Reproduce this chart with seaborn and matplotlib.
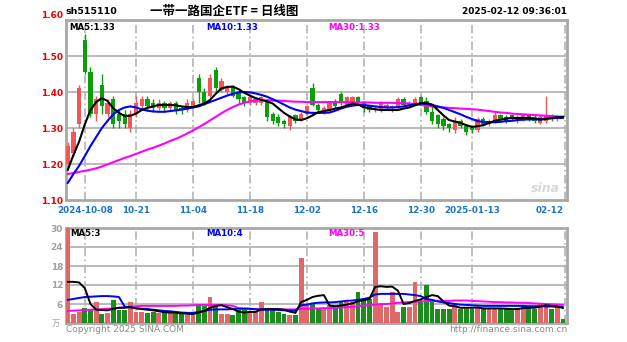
import numpy as np
import pandas as pd
import matplotlib
matplotlib.use("Agg")
import matplotlib.pyplot as plt
import seaborn as sns

# ---------------- data ----------------
dates = ["09-26", "09-27", "09-30", "10-08", "10-09", "10-10", "10-11", "10-14", "10-15", "10-16",
         "10-17", "10-18", "10-21", "10-22", "10-23", "10-24", "10-25", "10-28", "10-29", "10-30",
         "10-31", "11-01", "11-04", "11-05", "11-06", "11-07", "11-08", "11-11", "11-12", "11-13",
         "11-14", "11-15", "11-18", "11-19", "11-20", "11-21", "11-22", "11-25", "11-26", "11-27",
         "11-28", "11-29", "12-02", "12-03", "12-04", "12-05", "12-06", "12-09", "12-10", "12-11",
         "12-12", "12-13", "12-16", "12-17", "12-18", "12-19", "12-20", "12-23", "12-24", "12-25",
         "12-26", "12-27", "12-30", "12-31", "01-02", "01-03", "01-06", "01-07", "01-08", "01-09",
         "01-10", "01-13", "01-14", "01-15", "01-16", "01-17", "01-20", "01-21", "01-22", "01-23",
         "01-24", "01-27", "02-05", "02-06", "02-07", "02-10", "02-11", "02-12"]

open_ = [1.20, 1.23, 1.31, 1.545, 1.455, 1.34, 1.42, 1.34, 1.38, 1.34,
         1.34, 1.30, 1.34, 1.36, 1.38, 1.37, 1.355, 1.37, 1.355, 1.37,
         1.355, 1.35, 1.36, 1.44, 1.40, 1.39, 1.46, 1.405, 1.40, 1.415,
         1.40, 1.385, 1.37, 1.37, 1.37, 1.375, 1.34, 1.33, 1.32, 1.305,
         1.335, 1.325, 1.34, 1.41, 1.365, 1.345, 1.35, 1.375, 1.395, 1.365,
         1.37, 1.385, 1.37, 1.36, 1.35, 1.35, 1.355, 1.355, 1.355, 1.38,
         1.365, 1.37, 1.385, 1.375, 1.345, 1.335, 1.325, 1.31, 1.295, 1.32,
         1.305, 1.30, 1.295, 1.325, 1.31, 1.32, 1.335, 1.33, 1.335, 1.32,
         1.325, 1.335, 1.33, 1.315, 1.32, 1.335, 1.325, 1.333]
high = [1.26, 1.30, 1.42, 1.56, 1.47, 1.39, 1.45, 1.38, 1.39, 1.35,
        1.35, 1.35, 1.39, 1.39, 1.39, 1.38, 1.38, 1.375, 1.375, 1.375,
        1.36, 1.38, 1.38, 1.45, 1.41, 1.45, 1.47, 1.44, 1.42, 1.42,
        1.405, 1.39, 1.39, 1.385, 1.39, 1.38, 1.345, 1.34, 1.325, 1.335,
        1.34, 1.345, 1.365, 1.425, 1.37, 1.36, 1.375, 1.38, 1.40, 1.39,
        1.39, 1.39, 1.375, 1.365, 1.36, 1.375, 1.37, 1.365, 1.385, 1.385,
        1.375, 1.385, 1.39, 1.385, 1.36, 1.34, 1.33, 1.315, 1.33, 1.325,
        1.31, 1.305, 1.33, 1.33, 1.325, 1.345, 1.34, 1.335, 1.34, 1.335,
        1.34, 1.34, 1.335, 1.335, 1.39, 1.34, 1.335, 1.335]
low = [1.19, 1.22, 1.30, 1.45, 1.33, 1.32, 1.34, 1.33, 1.30, 1.30,
       1.30, 1.29, 1.33, 1.35, 1.35, 1.345, 1.35, 1.345, 1.35, 1.34,
       1.34, 1.345, 1.355, 1.37, 1.365, 1.385, 1.40, 1.40, 1.395, 1.385,
       1.37, 1.36, 1.365, 1.365, 1.365, 1.32, 1.31, 1.305, 1.30, 1.295,
       1.315, 1.32, 1.335, 1.36, 1.345, 1.34, 1.345, 1.355, 1.365, 1.36,
       1.365, 1.365, 1.345, 1.345, 1.345, 1.345, 1.35, 1.345, 1.35, 1.36,
       1.36, 1.365, 1.365, 1.34, 1.31, 1.30, 1.295, 1.29, 1.285, 1.30,
       1.28, 1.285, 1.29, 1.305, 1.305, 1.315, 1.32, 1.315, 1.32, 1.315,
       1.32, 1.32, 1.315, 1.31, 1.315, 1.32, 1.32, 1.328]
close = [1.25, 1.29, 1.41, 1.455, 1.34, 1.38, 1.36, 1.37, 1.31, 1.32,
         1.31, 1.34, 1.37, 1.38, 1.36, 1.355, 1.37, 1.355, 1.37, 1.35,
         1.35, 1.37, 1.375, 1.40, 1.37, 1.44, 1.41, 1.43, 1.415, 1.39,
         1.38, 1.37, 1.385, 1.38, 1.385, 1.33, 1.32, 1.315, 1.31, 1.33,
         1.32, 1.34, 1.36, 1.365, 1.35, 1.355, 1.37, 1.36, 1.37, 1.385,
         1.385, 1.37, 1.355, 1.35, 1.355, 1.37, 1.365, 1.36, 1.38, 1.365,
         1.37, 1.38, 1.37, 1.345, 1.32, 1.31, 1.305, 1.30, 1.32, 1.305,
         1.29, 1.295, 1.325, 1.31, 1.32, 1.335, 1.325, 1.32, 1.325, 1.33,
         1.335, 1.325, 1.32, 1.33, 1.335, 1.325, 1.333, 1.33]

ma5 = [1.183, 1.225, 1.262, 1.31, 1.35, 1.372, 1.383, 1.375, 1.355, 1.342,
       1.333, 1.334, 1.34, 1.35, 1.356, 1.36, 1.364, 1.364, 1.364, 1.363,
       1.36, 1.358, 1.358, 1.363, 1.368, 1.378, 1.395, 1.41, 1.414, 1.415,
       1.408, 1.398, 1.39, 1.383, 1.378, 1.374, 1.368, 1.355, 1.342, 1.332,
       1.324, 1.322, 1.327, 1.335, 1.344, 1.347, 1.35, 1.354, 1.357, 1.362,
       1.368, 1.365, 1.358, 1.355, 1.352, 1.35, 1.35, 1.35, 1.35, 1.354,
       1.357, 1.363, 1.369, 1.369, 1.365, 1.35, 1.335, 1.322, 1.318, 1.314,
       1.308, 1.303, 1.305, 1.308, 1.314, 1.32, 1.323, 1.326, 1.328, 1.328,
       1.328, 1.328, 1.326, 1.323, 1.325, 1.328, 1.33, 1.331]
ma10 = [1.147, 1.172, 1.195, 1.222, 1.25, 1.275, 1.30, 1.32, 1.338, 1.35,
        1.357, 1.36, 1.357, 1.352, 1.348, 1.346, 1.345, 1.345, 1.347, 1.349,
        1.351, 1.354, 1.357, 1.36, 1.366, 1.372, 1.378, 1.384, 1.39, 1.395,
        1.399, 1.40, 1.399, 1.396, 1.392, 1.387, 1.38, 1.373, 1.365, 1.357,
        1.351, 1.347, 1.343, 1.342, 1.342, 1.342, 1.343, 1.348, 1.354, 1.359,
        1.362, 1.364, 1.364, 1.362, 1.36, 1.358, 1.357, 1.357, 1.358, 1.36,
        1.363, 1.366, 1.368, 1.367, 1.364, 1.36, 1.356, 1.35, 1.344, 1.338,
        1.331, 1.325, 1.319, 1.317, 1.316, 1.316, 1.317, 1.319, 1.32, 1.322,
        1.323, 1.324, 1.324, 1.325, 1.326, 1.327, 1.328, 1.328]
ma30 = [1.172, 1.175, 1.178, 1.181, 1.184, 1.188, 1.193, 1.199, 1.205, 1.211,
        1.217, 1.222, 1.228, 1.234, 1.24, 1.245, 1.251, 1.257, 1.264, 1.27,
        1.277, 1.285, 1.293, 1.302, 1.311, 1.321, 1.331, 1.341, 1.35, 1.358,
        1.365, 1.37, 1.374, 1.376, 1.377, 1.377, 1.376, 1.376, 1.375, 1.374,
        1.373, 1.373, 1.372, 1.372, 1.372, 1.372, 1.372, 1.372, 1.372, 1.372,
        1.371, 1.371, 1.371, 1.371, 1.37, 1.37, 1.37, 1.37, 1.369, 1.369,
        1.368, 1.366, 1.364, 1.362, 1.36, 1.358, 1.357, 1.356, 1.355, 1.354,
        1.353, 1.352, 1.351, 1.349, 1.347, 1.345, 1.343, 1.342, 1.34, 1.339,
        1.338, 1.337, 1.336, 1.335, 1.334, 1.333, 1.332, 1.331]

volume = [34, 3, 3.5, 4.7, 4.5, 6.5, 3, 3.2, 7.3, 4,
          4, 6.6, 3.5, 3.5, 3.2, 3.5, 3.2, 3.4, 3.3, 3,
          3, 2.5, 2.5, 5.7, 5.5, 8.2, 5.3, 3, 3, 2.5,
          4, 4, 3.5, 3.5, 6.6, 4.5, 4, 3.5, 3, 2.5,
          2.5, 20.5, 6, 6.3, 4.5, 4.5, 5.7, 5.4, 6.5, 6.6,
          6.6, 9.8, 7.6, 7.6, 28.7, 6.3, 5, 9.8, 3.5, 5,
          5, 13, 7, 12, 7, 4.4, 4.4, 4.4, 6.3, 4.4,
          4.4, 4.4, 5, 4.5, 4.5, 4.4, 4.4, 4.4, 4.4, 4.4,
          5.5, 5.5, 4.4, 6.3, 6.3, 4.4, 5, 1.3]
vma5 = [13, 13, 12.8, 11, 6, 4.2, 4.1, 4.0, 4.5, 4.8,
        4.8, 5.0, 4.6, 4.4, 4.2, 4.0, 3.7, 3.4, 3.3, 3.2,
        3.1, 2.9, 2.8, 3.3, 3.8, 4.8, 5.4, 5.6, 5.0, 4.4,
        3.6, 3.3, 3.5, 3.5, 4.3, 4.4, 4.4, 4.4, 4.2, 3.6,
        3.2, 6.6, 7.3, 8.2, 8.6, 8.8, 5.5, 5.3, 5.5, 5.8,
        6.2, 6.9, 7.2, 7.6, 11.4, 11.6, 11.4, 11.5, 10.2, 6.0,
        6.3, 7.0, 7.4, 8.2, 8.8, 8.5, 6.8, 5.5, 5.3, 4.8,
        4.8, 4.8, 4.9, 4.6, 4.6, 4.6, 4.6, 4.5, 4.4, 4.4,
        4.7, 4.8, 4.8, 5.2, 5.6, 5.4, 5.3, 4.7]
vma10 = [7.3, 7.6, 7.9, 8.2, 8.3, 8.4, 8.5, 8.5, 8.4, 8.2,
         5.2, 5.0, 4.7, 4.5, 4.4, 4.2, 4.0, 3.8, 3.7, 3.5,
         3.3, 3.2, 3.2, 3.5, 3.8, 4.2, 4.3, 4.3, 4.3, 4.4,
         4.5, 4.5, 4.5, 4.3, 4.2, 4.2, 4.2, 4.1, 4.0, 3.9,
         3.9, 5.6, 5.8, 6.2, 6.4, 6.5, 6.5, 6.6, 6.8, 7.0,
         7.1, 7.3, 7.6, 8.0, 9.0, 9.2, 9.2, 9.2, 9.2, 9.2,
         9.0, 8.8, 8.5, 7.6, 7.3, 6.8, 6.5, 6.3, 6.0, 5.8,
         5.7, 5.6, 5.5, 5.4, 5.4, 5.4, 5.4, 5.4, 5.4, 5.4,
         5.4, 5.3, 5.3, 5.3, 5.2, 5.2, 5.1, 5.1]
vma30 = [3.8, 3.9, 4.0, 4.1, 4.2, 4.3, 4.4, 4.5, 4.6, 4.8,
         5.0, 5.1, 5.3, 5.4, 5.4, 5.4, 5.4, 5.4, 5.4, 5.4,
         5.5, 5.5, 5.6, 5.7, 5.7, 5.7, 5.7, 5.7, 5.6, 5.4,
         4.7, 4.6, 4.5, 4.4, 4.4, 4.3, 4.3, 4.3, 4.3, 4.3,
         4.3, 4.4, 4.5, 4.6, 4.6, 4.7, 4.7, 4.8, 4.9, 5.0,
         5.1, 5.3, 5.5, 5.6, 5.8, 5.9, 6.0, 6.2, 6.4, 6.5,
         6.6, 6.7, 6.8, 6.9, 6.9, 7.0, 7.0, 7.0, 7.1, 7.1,
         7.1, 7.0, 6.9, 6.8, 6.7, 6.6, 6.6, 6.5, 6.5, 6.4,
         6.4, 6.3, 6.2, 6.1, 6.0, 5.9, 5.8, 5.7]

price_ticks = [1.10, 1.20, 1.30, 1.40, 1.50, 1.60]
vol_ticks = [0, 6, 12, 18, 24, 30]
date_tick_pos = [3, 12, 22, 32, 42, 52, 62, 71]
date_tick_lab = ["2024-10-08", "10-21", "11-04", "11-18", "12-02", "12-16", "12-30", "2025-01-13"]
last_label = "02-12"

code = "sh515110"
title = "一带一路国企ETF = 日线图"
stamp = "2025-02-12 09:36:01"
legend_price = ["MA5:1.33", "MA10:1.33", "MA30:1.33"]
legend_vol = ["MA5:3", "MA10:4", "MA30:5"]

# ---------------- style ----------------
sns.set_style("white")
plt.rcParams["font.family"] = ["DejaVu Sans", "Noto Sans CJK SC"]

RED = "#f25656"
GREEN = "#0a9e0a"
GRID = "#b4b4b4"
DATEBLUE = "#1a74c8"

df = pd.DataFrame({"i": np.arange(len(dates)), "date": dates, "open": open_, "high": high,
                   "low": low, "close": close, "volume": volume,
                   "ma5": ma5, "ma10": ma10, "ma30": ma30,
                   "vma5": vma5, "vma10": vma10, "vma30": vma30})
df["dir"] = np.where(df["close"] >= df["open"], "up", "down")
pal = {"up": RED, "down": GREEN}

fig = plt.figure(figsize=(6.27, 3.42), dpi=100)
ax1 = fig.add_axes([66 / 627, 1 - 200 / 342, 501 / 627, 180 / 342])
ax2 = fig.add_axes([66 / 627, 1 - 323 / 342, 501 / 627, 95 / 342])

XMIN, XMAX = -0.3, 87.7

for ax in (ax1, ax2):
    for s in ax.spines.values():
        s.set_color("#a8a8a8")
        s.set_linewidth(2.0)
    for p in date_tick_pos + [87.3]:
        ax.axvline(p, color=GRID, lw=1.2, ls=(0, (5, 2, 1, 2)), zorder=0)

# ---- price panel ----
for y in [1.20, 1.30, 1.40, 1.50]:
    ax1.axhline(y, color=GRID, lw=1.3, zorder=0)

wick_colors = [pal[d] for d in df["dir"]]
ax1.vlines(df["i"], df["low"], df["high"], colors=wick_colors, lw=1.0, zorder=2)
body_bottom = np.minimum(df["open"], df["close"])
body_h = np.maximum(np.abs(df["close"] - df["open"]), 0.003)
ax1.bar(df["i"], body_h, bottom=body_bottom, width=0.75, color=wick_colors, linewidth=0, zorder=3)

sns.lineplot(data=df, x="i", y="ma30", ax=ax1, color="#ff00ff", lw=1.5, zorder=4)
sns.lineplot(data=df, x="i", y="ma10", ax=ax1, color="#0000ff", lw=1.5, zorder=5)
sns.lineplot(data=df, x="i", y="ma5", ax=ax1, color="#000000", lw=1.5, zorder=6)

ax1.set_xlim(XMIN, XMAX)
ax1.set_ylim(1.10, 1.60)
ax1.set_yticks(price_ticks)
ax1.set_yticklabels([f"{v:.2f}" for v in price_ticks])
ax1.tick_params(axis="y", length=0, pad=2, labelsize=6.5, labelcolor="#ee0000")
for lab in ax1.get_yticklabels():
    lab.set_fontweight("bold")
ax1.get_yticklabels()[-1].set_va("bottom")
ax1.set_xticks([])
ax1.set_xlabel("")
ax1.set_ylabel("")

lp_x = [0.3, 24.3, 45.8]
for xx, t, c in zip(lp_x, legend_price, ["#000000", "#0000ff", "#ff00ff"]):
    ax1.text(xx, 1.592, t, color=c, fontsize=6.2, fontweight="bold", va="top", ha="left")

ax1.text(0.985, 0.03, "sina", transform=ax1.transAxes, ha="right", va="bottom",
         fontsize=9, fontstyle="italic", fontweight="bold", color="#d8d8d8", zorder=1)

for p, lab in zip(date_tick_pos, date_tick_lab):
    ax1.text(p, -0.035, lab, transform=ax1.get_xaxis_transform(), ha="center", va="top",
             fontsize=6.3, fontweight="bold", color=DATEBLUE)
ax1.text(XMAX - 0.6, -0.035, last_label, transform=ax1.get_xaxis_transform(), ha="right",
         va="top", fontsize=6.3, fontweight="bold", color=DATEBLUE)

# ---- volume panel ----
for y in vol_ticks[1:]:
    ax2.axhline(y, color=GRID, lw=1.3, zorder=0)

sns.barplot(data=df, x="i", y="volume", hue="dir", palette=pal, dodge=False,
            native_scale=True, width=0.85, errorbar=None, legend=False, ax=ax2,
            linewidth=0, zorder=3)
sns.lineplot(data=df, x="i", y="vma30", ax=ax2, color="#ff00ff", lw=1.4, zorder=4)
sns.lineplot(data=df, x="i", y="vma10", ax=ax2, color="#0000ff", lw=1.4, zorder=5)
sns.lineplot(data=df, x="i", y="vma5", ax=ax2, color="#000000", lw=1.4, zorder=6)

ax2.set_xlim(XMIN, XMAX)
ax2.set_ylim(0, 30)
ax2.set_yticks(vol_ticks)
ax2.set_yticklabels([""] + [str(v) for v in vol_ticks[1:]])
ax2.tick_params(axis="y", length=0, pad=2, labelsize=6.5, labelcolor="#a0a0a0")
for lab in ax2.get_yticklabels():
    lab.set_fontweight("bold")
ax2.set_xticks([])
ax2.set_xlabel("")
ax2.set_ylabel("")

for xx, t, c in zip([0.5, 24.3, 45.8], legend_vol, ["#000000", "#0000ff", "#ff00ff"]):
    ax2.text(xx, 29.6, t, color=c, fontsize=6.2, fontweight="bold", va="top", ha="left")

ax2.text(0.0, -0.02, "Copyright 2025 SINA.COM", transform=ax2.transAxes, ha="left", va="top",
         fontsize=6.5, color="#8a8a8a")
ax2.text(1.0, -0.02, "http://finance.sina.com.cn", transform=ax2.transAxes, ha="right", va="top",
         fontsize=6.5, color="#8a8a8a")
ax2.text(-0.012, 0.0, "万", transform=ax2.transAxes, ha="right", va="center",
         fontsize=6, color="#a0a0a0", family=["Noto Sans CJK SC", "DejaVu Sans"])

# ---- header ----
fig.text(65 / 627, 1 - 11 / 342, code, ha="left", va="center", fontsize=6.8,
         fontweight="bold", color="#000000")
fig.text(224 / 627, 1 - 11 / 342, title, ha="center", va="center", fontsize=9,
         fontweight="bold", color="#000000", family=["Noto Sans CJK SC", "DejaVu Sans"])
fig.text(567 / 627, 1 - 11 / 342, stamp, ha="right", va="center", fontsize=6.5,
         fontweight="bold", color="#000000")

fig.savefig("out.png", dpi=100, facecolor="white")
